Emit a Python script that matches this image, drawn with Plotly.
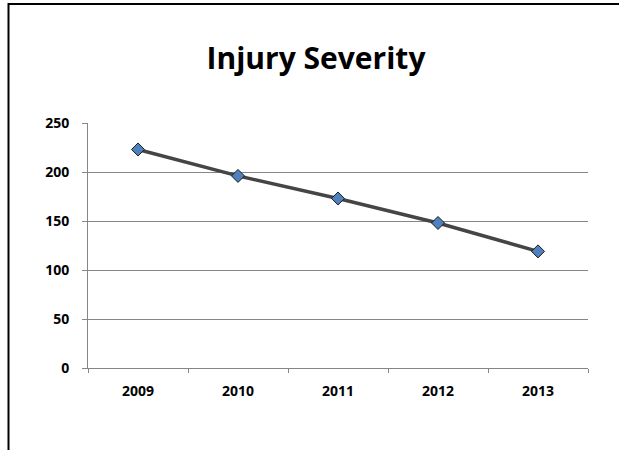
import plotly.graph_objects as go

# Injury severity totals by year
years = ["2009", "2010", "2011", "2012", "2013"]
severity = [223, 196, 173, 148, 119]
y_ticks = [0, 50, 100, 150, 200, 250]

W, H = 619, 450
L, R, T, B = 88, 31, 123, 82
plot_w = W - L - R
plot_h = H - T - B


def px_x(px):
    return (px - L) / plot_w


def px_y(py):
    return (H - B - py) / plot_h


fig = go.Figure()
fig.add_trace(go.Scatter(
    x=years,
    y=severity,
    mode="lines+markers",
    line=dict(color="#454545", width=3.5),
    marker=dict(symbol="diamond", size=10, color="#4F81BD",
                line=dict(color="#1a1a1a", width=1)),
    showlegend=False,
    hoverinfo="x+y",
))

tick_font = dict(family="Open Sans", size=14, color="#000000", weight="bold")

fig.update_layout(
    width=W,
    height=H,
    margin=dict(l=L, r=R, t=T, b=B),
    paper_bgcolor="white",
    plot_bgcolor="white",
    title=dict(
        text="Injury Severity",
        font=dict(family="Open Sans", size=30, color="#000000", weight="bold"),
        xref="container", x=316 / W, xanchor="center",
        yref="container", y=1 - 58 / H, yanchor="middle",
    ),
    xaxis=dict(
        type="category",
        showgrid=False,
        showline=True, linecolor="#868686", linewidth=1,
        ticks="outside", ticklen=4, tickcolor="#868686",
        tickson="boundaries",
        tickfont=tick_font,
        ticklabelstandoff=10,
        range=[-0.5, 4.5],
        fixedrange=True,
    ),
    yaxis=dict(
        range=[0, 250],
        tickvals=y_ticks,
        showgrid=True, gridcolor="#868686", gridwidth=1,
        showline=True, linecolor="#868686", linewidth=1,
        ticks="outside", ticklen=5, tickcolor="#868686",
        tickfont=tick_font,
        ticklabelstandoff=10,
        zeroline=False,
        fixedrange=True,
    ),
    shapes=[
        # frame: top edge and left edge
        dict(type="line", xref="paper", yref="paper",
             x0=px_x(8), x1=px_x(W), y0=px_y(4), y1=px_y(4),
             line=dict(color="black", width=2)),
        dict(type="line", xref="paper", yref="paper",
             x0=px_x(8.5), x1=px_x(8.5), y0=px_y(3), y1=px_y(H),
             line=dict(color="black", width=2)),
    ],
)

fig.write_html("out.html", config={"displayModeBar": False})
